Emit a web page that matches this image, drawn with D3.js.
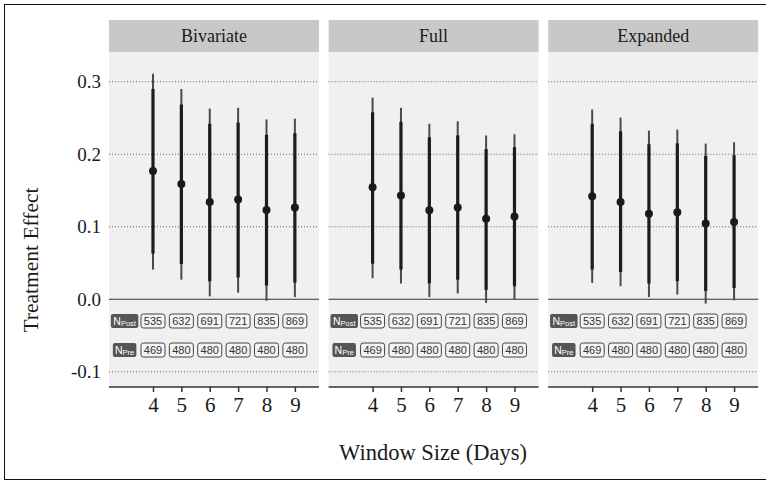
<!DOCTYPE html>
<html>
<head>
<meta charset="utf-8">
<script src="https://cdn.jsdelivr.net/npm/d3@7"></script>
<style>
body { margin: 0; background: #fff; }
text { font-family: "Liberation Serif", "Times New Roman", serif; }
</style>
</head>
<body>
<script>
// data
var windows = [4, 5, 6, 7, 8, 9];
var models = ["Bivariate", "Full", "Expanded"];
var estimate = [
  [0.177, 0.159, 0.134, 0.1375, 0.123, 0.1265],
  [0.1545, 0.143, 0.1228, 0.1265, 0.111, 0.114],
  [0.142, 0.134, 0.118, 0.120, 0.1044, 0.1066]
];
var hi90 = [
  [0.290, 0.2685, 0.242, 0.2437, 0.227, 0.229],
  [0.258, 0.2446, 0.2234, 0.226, 0.207, 0.2097],
  [0.242, 0.2317, 0.2138, 0.215, 0.1977, 0.1986]
];
var lo90 = [
  [0.063, 0.0487, 0.0248, 0.030, 0.019, 0.023],
  [0.049, 0.041, 0.022, 0.027, 0.013, 0.018],
  [0.041, 0.0377, 0.0216, 0.025, 0.0115, 0.0156]
];
var hi95 = [
  [0.311, 0.290, 0.263, 0.264, 0.248, 0.249],
  [0.278, 0.264, 0.242, 0.2455, 0.2258, 0.2276],
  [0.2616, 0.2506, 0.2326, 0.234, 0.2147, 0.2166]
];
var lo95 = [
  [0.041, 0.027, 0.004, 0.009, -0.002, 0.003],
  [0.029, 0.0216, 0.003, 0.008, -0.005, 0.000],
  [0.0225, 0.018, 0.003, 0.0065, -0.006, -0.0014]
];
var nPost = [535, 632, 691, 721, 835, 869];
var nPre = [469, 480, 480, 480, 480, 480];
var yTicks = [-0.1, 0.0, 0.1, 0.2, 0.3];

var W = 766, H = 481;
var panelW = 210, panelStep = 219.6, panelLeft = 109;
var stripTop = 20, panelTop = 52, panelBottom = 387;

var svg = d3.select("body").append("svg")
  .attr("width", W)
  .attr("height", H);

// outer frame
svg.append("rect")
  .attr("x", 4.5).attr("y", 4.5)
  .attr("width", 780).attr("height", 475)
  .attr("fill", "none")
  .attr("stroke", "#111")
  .attr("stroke-width", 1);

var y = d3.scaleLinear()
  .domain([-0.121, 0.341])
  .range([panelBottom, panelTop]);

models.forEach(function(m, p) {
  var left = panelLeft + p * panelStep;
  var x = d3.scaleLinear()
    .domain([2.45, 9.85])
    .range([left, left + panelW]);

  var g = svg.append("g");

  // strip
  g.append("rect")
    .attr("x", left).attr("y", stripTop)
    .attr("width", panelW).attr("height", panelTop - stripTop)
    .attr("fill", "#c8c8c8");
  g.append("text")
    .attr("x", left + panelW / 2).attr("y", 42)
    .attr("text-anchor", "middle")
    .attr("font-size", 18)
    .attr("fill", "#1a1a1a")
    .text(m);

  // panel background
  g.append("rect")
    .attr("x", left).attr("y", panelTop)
    .attr("width", panelW).attr("height", panelBottom - panelTop)
    .attr("fill", "#f0f0f0");

  // grid
  yTicks.forEach(function(t) {
    g.append("line")
      .attr("x1", left).attr("x2", left + panelW)
      .attr("y1", y(t)).attr("y2", y(t))
      .attr("stroke", t === 0 ? "#333" : "#555")
      .attr("stroke-width", t === 0 ? 1.2 : 0.9)
      .attr("stroke-dasharray", t === 0 ? null : "1,2");
  });

  // outer interval
  g.selectAll(".outer")
    .data(windows)
    .enter().append("line")
    .attr("x1", function(d) { return x(d); })
    .attr("x2", function(d) { return x(d); })
    .attr("y1", function(d, i) { return y(lo95[p][i]); })
    .attr("y2", function(d, i) { return y(hi95[p][i]); })
    .attr("stroke", "#4a4a4a")
    .attr("stroke-width", 2);

  // inner interval
  g.selectAll(".inner")
    .data(windows)
    .enter().append("line")
    .attr("x1", function(d) { return x(d); })
    .attr("x2", function(d) { return x(d); })
    .attr("y1", function(d, i) { return y(lo90[p][i]); })
    .attr("y2", function(d, i) { return y(hi90[p][i]); })
    .attr("stroke", "#1c1c1c")
    .attr("stroke-width", 3.2);

  g.selectAll(".pt")
    .data(windows)
    .enter().append("circle")
    .attr("cx", function(d) { return x(d); })
    .attr("cy", function(d, i) { return y(estimate[p][i]); })
    .attr("r", 4)
    .attr("fill", "#1a1a1a");

  // sample size labels
  [[nPost, "Post", -0.030, 27.5], [nPre, "Pre", -0.070, 23.5]].forEach(function(row) {
    var vals = row[0], yy = y(row[2]);
    var lab = g.append("g");
    lab.append("rect")
      .attr("x", x(3) - row[3] / 2).attr("y", yy - 7)
      .attr("width", row[3]).attr("height", 14)
      .attr("rx", 2)
      .attr("fill", "#555");
    var t = lab.append("text")
      .attr("x", x(3)).attr("y", yy + 4)
      .attr("text-anchor", "middle")
      .attr("fill", "#fff")
      .style("font-family", "'Liberation Sans', Arial, sans-serif")
      .attr("font-size", 10.5);
    t.append("tspan").text("N");
    t.append("tspan").attr("font-size", 7.5).attr("dy", 1).text(row[1]);

    g.selectAll(".n" + row[1])
      .data(windows)
      .enter().append("g")
      .each(function(d, i) {
        var b = d3.select(this);
        b.append("rect")
          .attr("x", x(d) - 12).attr("y", yy - 7)
          .attr("width", 24).attr("height", 14)
          .attr("rx", 2.5)
          .attr("fill", "#f4f4f4")
          .attr("stroke", "#444")
          .attr("stroke-width", 1);
        b.append("text")
          .attr("x", x(d)).attr("y", yy + 4)
          .attr("text-anchor", "middle")
          .attr("fill", "#333")
          .style("font-family", "'Liberation Sans', Arial, sans-serif")
          .attr("font-size", 11)
          .text(vals[i]);
      });
  });

  // x axis
  var xa = g.append("g")
    .attr("transform", "translate(0," + panelBottom + ")")
    .call(d3.axisBottom(x).tickValues(windows).tickSize(5).tickPadding(5).tickFormat(d3.format("d")));
  xa.select(".domain").remove();
  xa.selectAll(".tick line").attr("stroke", "#333").attr("stroke-width", 1.5);
  xa.selectAll(".tick text")
    .attr("font-size", 21)
    .attr("fill", "#1a1a1a")
    .style("font-family", "'Liberation Serif', serif");
  g.append("line")
    .attr("x1", left).attr("x2", left + panelW)
    .attr("y1", panelBottom).attr("y2", panelBottom)
    .attr("stroke", "#333")
    .attr("stroke-width", 1.6);
});

// y axis
var ya = svg.append("g")
  .attr("transform", "translate(" + panelLeft + ",0)")
  .call(d3.axisLeft(y).tickValues(yTicks).tickSize(0).tickPadding(8)
    .tickFormat(function(d) { return d.toFixed(1); }));
ya.select(".domain").remove();
ya.selectAll(".tick text")
  .attr("font-size", 19)
  .attr("fill", "#1a1a1a")
  .style("font-family", "'Liberation Serif', serif");

// axis titles
svg.append("text")
  .attr("transform", "translate(38,260) rotate(-90)")
  .attr("text-anchor", "middle")
  .attr("font-size", 21.5)
  .attr("fill", "#1a1a1a")
  .text("Treatment Effect");

svg.append("text")
  .attr("x", 433).attr("y", 460)
  .attr("text-anchor", "middle")
  .attr("font-size", 22.5)
  .attr("fill", "#1a1a1a")
  .text("Window Size (Days)");
</script>
</body>
</html>
